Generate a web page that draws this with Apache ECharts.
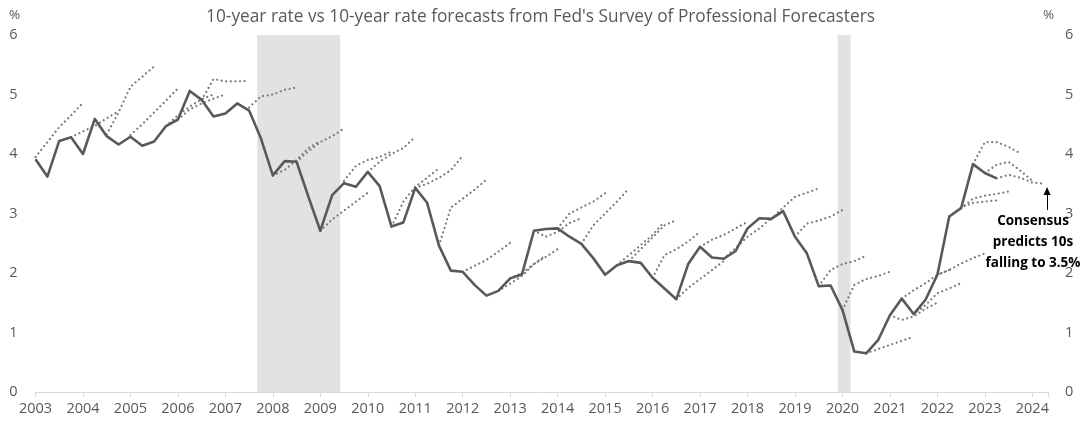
<!DOCTYPE html>
<html><head><meta charset="utf-8">
<script src="https://cdn.jsdelivr.net/npm/echarts@6/dist/echarts.min.js"></script>
<style>html,body{margin:0;padding:0;background:#fff}#c{width:1081px;height:423px}</style>
</head><body><div id="c"></div>
<script>
// Quarterly 10-year Treasury yield, starting 2003 Q1
const firstQuarter = 2003;
const tenYear = [
  3.91, 3.62, 4.22, 4.28,
  4.00, 4.59, 4.30, 4.16,
  4.29, 4.14, 4.21, 4.47,
  4.58, 5.06, 4.91, 4.63,
  4.68, 4.85, 4.73, 4.26,
  3.64, 3.88, 3.87, 3.28,
  2.71, 3.31, 3.51, 3.45,
  3.70, 3.46, 2.78, 2.85,
  3.43, 3.18, 2.46, 2.04,
  2.02, 1.80, 1.62, 1.70,
  1.91, 1.98, 2.71, 2.74,
  2.75, 2.61, 2.49, 2.25,
  1.97, 2.13, 2.20, 2.17,
  1.92, 1.74, 1.56, 2.15,
  2.44, 2.26, 2.24, 2.37,
  2.75, 2.92, 2.91, 3.04,
  2.61, 2.33, 1.78, 1.79,
  1.38, 0.68, 0.65, 0.87,
  1.29, 1.57, 1.31, 1.55,
  1.97, 2.95, 3.09, 3.83,
  3.68, 3.59
];
// SPF forecasts: survey quarter and quarterly path (survey quarter + 4)
const fcStarts = [2003.0, 2003.75, 2004.5, 2005.0, 2005.75, 2006.0, 2006.5, 2007.5,
  2008.0, 2008.5, 2009.0, 2009.5, 2010.0, 2010.5, 2011.0, 2011.5, 2012.0, 2012.75, 2013.0,
  2013.5, 2014.0, 2014.5, 2015.25, 2015.5, 2016.0, 2016.5, 2017.0, 2017.5, 2018.5, 2019.0,
  2019.5, 2020.0, 2020.5, 2021.0, 2021.25, 2021.5, 2022.0, 2022.25, 2022.5, 2022.75, 2023.0, 2023.25];
const fcValues = [
  [3.95, 4.20, 4.45, 4.65, 4.86],
  [4.28, 4.38, 4.47, 4.60, 4.72],
  [4.33, 4.70, 5.13, 5.30, 5.47],
  [4.32, 4.50, 4.70, 4.90, 5.10],
  [4.47, 4.65, 4.80, 4.92, 5.00],
  [4.58, 4.75, 4.85, 4.93, 5.00],
  [4.91, 5.26, 5.22, 5.22, 5.23],
  [4.78, 4.97, 5.00, 5.08, 5.12],
  [3.64, 3.73, 3.90, 4.10, 4.22],
  [3.87, 4.05, 4.20, 4.30, 4.43],
  [2.71, 2.90, 3.05, 3.20, 3.35],
  [3.55, 3.80, 3.90, 3.95, 4.04],
  [3.70, 3.87, 4.00, 4.10, 4.29],
  [2.78, 3.20, 3.45, 3.60, 3.76],
  [3.43, 3.50, 3.60, 3.73, 3.97],
  [2.46, 3.10, 3.25, 3.40, 3.57],
  [2.02, 2.12, 2.22, 2.36, 2.51],
  [1.70, 1.82, 1.95, 2.15, 2.30],
  [1.91, 2.00, 2.15, 2.27, 2.40],
  [2.71, 2.61, 2.69, 2.84, 2.92],
  [2.75, 3.00, 3.10, 3.20, 3.34],
  [2.49, 2.80, 3.00, 3.20, 3.42],
  [2.13, 2.30, 2.47, 2.64, 2.86],
  [2.20, 2.40, 2.60, 2.80, 2.89],
  [1.92, 2.30, 2.40, 2.53, 2.69],
  [1.56, 1.75, 1.90, 2.05, 2.20],
  [2.44, 2.56, 2.64, 2.75, 2.86],
  [2.24, 2.42, 2.61, 2.75, 2.92],
  [2.91, 3.10, 3.28, 3.35, 3.42],
  [2.61, 2.83, 2.88, 2.95, 3.06],
  [1.78, 2.05, 2.15, 2.20, 2.29],
  [1.38, 1.80, 1.90, 1.95, 2.02],
  [0.65, 0.72, 0.79, 0.86, 0.93],
  [1.29, 1.21, 1.27, 1.40, 1.50],
  [1.57, 1.71, 1.83, 1.97, 2.05],
  [1.31, 1.46, 1.66, 1.74, 1.83],
  [1.97, 2.05, 2.16, 2.25, 2.33],
  [2.95, 3.10, 3.18, 3.20, 3.22],
  [3.09, 3.25, 3.30, 3.33, 3.37],
  [3.83, 4.20, 4.20, 4.12, 4.01],
  [3.68, 3.82, 3.87, 3.72, 3.55],
  [3.59, 3.65, 3.60, 3.52, 3.50]
];
const recessions = [[2007.67, 2009.42], [2019.9, 2020.17]];
const xMin = 2003, xMax = 2024.33;
const yMin = 0, yMax = 6;
const titleText = "10-year rate vs 10-year rate forecasts from Fed's Survey of Professional Forecasters";
const noteLines = ['Consensus', 'predicts 10s', 'falling to 3.5%'];
const arrowFrom = [2024.31, 3.06], arrowTo = [2024.31, 3.38];

const FONT = '"Open Sans", "Noto Sans", sans-serif';
const GREY = '#595959';

const series = [];
series.push({
  type: 'line', data: [], silent: true, z: 0,
  markArea: {
    silent: true,
    itemStyle: { color: '#e2e2e2' },
    data: recessions.map(r => [{ xAxis: r[0] }, { xAxis: r[1] }])
  }
});
fcStarts.forEach((s, k) => {
  series.push({
    type: 'line', showSymbol: false, silent: true, z: 2,
    lineStyle: { color: '#777777', width: 2.2, type: [0.01, 4.6], cap: 'round' },
    data: fcValues[k].map((v, i) => [s + i * 0.25, v])
  });
});
series.push({
  type: 'line', showSymbol: false, silent: true, z: 3,
  lineStyle: { color: GREY, width: 2.6, join: 'round' },
  data: tenYear.map((v, i) => [firstQuarter + i * 0.25, v]),
  markLine: {
    silent: true, symbol: ['none', 'triangle'], symbolSize: [7, 8],
    lineStyle: { color: '#000', width: 1, type: 'solid' },
    label: { show: false },
    data: [[{ coord: arrowFrom }, { coord: arrowTo }]]
  }
});

const chart = echarts.init(document.getElementById('c'));
chart.setOption({
  animation: false,
  backgroundColor: '#fff',
  title: {
    text: titleText, left: 'center', top: 4,
    textStyle: { fontFamily: FONT, fontSize: 17.3, fontWeight: 'normal', color: GREY }
  },
  grid: { left: 35.5, right: 33, top: 35, bottom: 31 },
  xAxis: {
    type: 'value', min: xMin, max: xMax, interval: 1,
    axisLine: { lineStyle: { color: '#d9d9d9', width: 1 } },
    axisTick: { show: true, length: 5, lineStyle: { color: '#d9d9d9' } },
    splitLine: { show: false },
    axisLabel: {
      color: GREY, fontFamily: FONT, fontSize: 14.5, margin: 9,
      formatter: v => (Math.abs(v - Math.round(v)) < 1e-6 ? String(Math.round(v)) : '')
    }
  },
  yAxis: [
    {
      type: 'value', min: yMin, max: yMax, interval: 1, position: 'left',
      axisLine: { show: false }, axisTick: { show: false }, splitLine: { show: false },
      axisLabel: { color: GREY, fontFamily: FONT, fontSize: 14.5, margin: 18 }
    },
    {
      type: 'value', min: yMin, max: yMax, interval: 1, position: 'right',
      axisLine: { show: false }, axisTick: { show: false }, splitLine: { show: false },
      axisLabel: { color: GREY, fontFamily: FONT, fontSize: 14.5, margin: 17 }
    }
  ],
  graphic: [
    { type: 'text', left: 9, top: 8, style: { text: '%', fill: GREY, font: '13.5px ' + FONT } },
    { type: 'text', left: 1043, top: 8, style: { text: '%', fill: GREY, font: '13.5px ' + FONT } },
    {
      type: 'text', x: 1033, y: 211, z: 10,
      style: {
        text: noteLines.join('\n'), fill: '#000', align: 'center', verticalAlign: 'top',
        font: 'bold 13.5px ' + FONT, lineHeight: 21
      }
    }
  ],
  series: series
});
</script></body></html>
